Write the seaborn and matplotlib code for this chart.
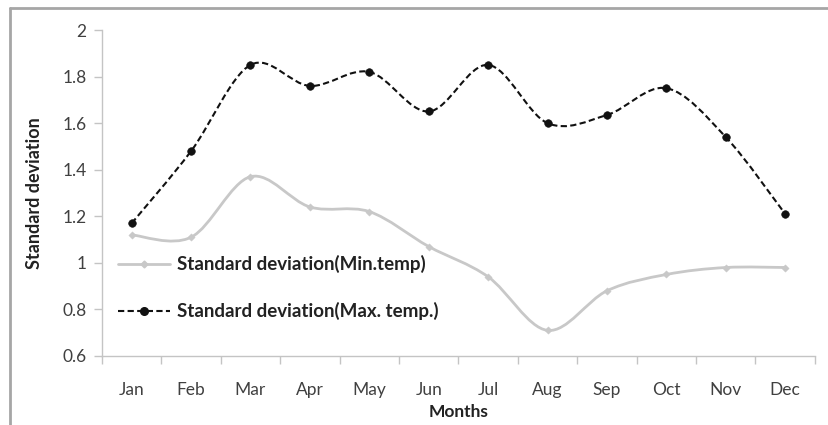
"""
plot.py
-------
Monthly standard deviation of minimum and maximum temperature,
drawn as Excel-style smoothed line chart.
"""

import numpy as np
import pandas as pd
import matplotlib
matplotlib.use("Agg")
import matplotlib.pyplot as plt
import seaborn as sns
from matplotlib.path import Path
from matplotlib.patches import PathPatch
from matplotlib.lines import Line2D

# Data
MONTHS = ["Jan", "Feb", "Mar", "Apr", "May", "Jun",
          "Jul", "Aug", "Sep", "Oct", "Nov", "Dec"]
SD_MIN = [1.12, 1.11, 1.37, 1.24, 1.22, 1.07, 0.94, 0.71, 0.88, 0.95, 0.98, 0.98]
SD_MAX = [1.17, 1.48, 1.85, 1.76, 1.82, 1.65, 1.85, 1.60, 1.635, 1.75, 1.54, 1.21]
Y_TICKS = [0.6, 0.8, 1.0, 1.2, 1.4, 1.6, 1.8, 2.0]
Y_TICK_LABELS = ["0.6", "0.8", "1", "1.2", "1.4", "1.6", "1.8", "2"]
LABEL_MIN = "Standard deviation(Min.temp)"
LABEL_MAX = "Standard deviation(Max. temp.)"

AXIS_GREY = "#c4c4c4"
TEXT_GREY = "#404040"
MIN_GREY = "#c8c8c8"


def smooth_path(x, y) -> Path:
    """Catmull-Rom curve through the points, as cubic Bezier segments (like Excel's smoothed line)."""
    pts = np.column_stack([x, y]).astype(float)
    padded = np.vstack([pts[0], pts, pts[-1]])
    verts = [pts[0]]
    codes = [Path.MOVETO]
    for i in range(len(pts) - 1):
        p0, p1, p2, p3 = padded[i], padded[i + 1], padded[i + 2], padded[i + 3]
        verts += [p1 + (p2 - p0) / 6, p2 - (p3 - p1) / 6, p2]
        codes += [Path.CURVE4] * 3
    return Path(verts, codes)


def main():
    sns.set_style("white")
    plt.rcParams["font.family"] = ["Lato", "DejaVu Sans"]

    df = pd.DataFrame({"month": MONTHS, "sd_min": SD_MIN, "sd_max": SD_MAX})
    df["pos"] = np.arange(len(df))

    fig = plt.figure(figsize=(8.29, 4.25), dpi=100)
    ax = fig.add_axes([0.123, 0.1624, 0.860, 0.767])

    # Smoothed lines
    ax.add_patch(PathPatch(smooth_path(df["pos"], df["sd_min"]), fill=False,
                           edgecolor=MIN_GREY, lw=2.0, zorder=2))
    ax.add_patch(PathPatch(smooth_path(df["pos"], df["sd_max"]), fill=False,
                           edgecolor="#111111", lw=1.5, linestyle=(0, (3, 1.6)), zorder=3))

    # Markers
    sns.scatterplot(data=df, x="pos", y="sd_min", ax=ax, marker="D", s=14,
                    color=MIN_GREY, edgecolor=MIN_GREY, zorder=4, legend=False)
    sns.scatterplot(data=df, x="pos", y="sd_max", ax=ax, marker="o", s=30,
                    color="#111111", edgecolor="#111111", zorder=5, legend=False)

    # Axes styling
    ax.set_xlim(-0.5, len(MONTHS) - 0.5)
    ax.set_ylim(0.6, 2.0)
    ax.set_xticks(df["pos"])
    ax.set_xticklabels(MONTHS)
    ax.set_xticks(np.arange(-0.5, len(MONTHS)), minor=True)
    ax.set_yticks(Y_TICKS)
    ax.set_yticklabels(Y_TICK_LABELS)
    ax.tick_params(axis="x", which="major", length=0, pad=19, labelsize=12.5, labelcolor=TEXT_GREY)
    ax.tick_params(axis="x", which="minor", length=6, width=1, color=AXIS_GREY, direction="out")
    ax.tick_params(axis="y", length=6, width=1, color=AXIS_GREY, direction="out",
                   labelsize=12.5, labelcolor=TEXT_GREY, pad=5)
    ax.tick_params(axis="both", which="both", bottom=True, left=True)

    for side in ["top", "right"]:
        ax.spines[side].set_visible(False)
    for side in ["left", "bottom"]:
        ax.spines[side].set_color(AXIS_GREY)
        ax.spines[side].set_linewidth(1)

    ax.set_xlabel("Months", fontsize=12.5, fontweight="bold", color="#222222", labelpad=4)
    ax.set_ylabel("Standard deviation", fontsize=13, fontweight="bold", color="#222222", labelpad=14)

    # Legend
    handles = [
        Line2D([], [], color=MIN_GREY, lw=2.0, marker="D", markersize=3.5),
        Line2D([], [], color="#111111", lw=1.5, linestyle=(0, (3, 1.6)), marker="o", markersize=5.5),
    ]
    ax.legend(handles, [LABEL_MIN, LABEL_MAX], loc="center left", bbox_to_anchor=(0.022, 0.209),
              frameon=False, borderpad=0, borderaxespad=0, handlelength=2.8, handletextpad=0.35,
              labelspacing=1.55, prop={"weight": "bold", "size": 13.5}, labelcolor="#222222")

    # Outer chart frame (only top and left edges visible)
    fig.add_artist(Line2D([0.012, 0.012], [0.0, 0.981], color="#a6a6a6", lw=2, transform=fig.transFigure))
    fig.add_artist(Line2D([0.012, 1.0], [0.981, 0.981], color="#a6a6a6", lw=2, transform=fig.transFigure))

    fig.savefig("out.png", dpi=100)


if __name__ == "__main__":
    main()
